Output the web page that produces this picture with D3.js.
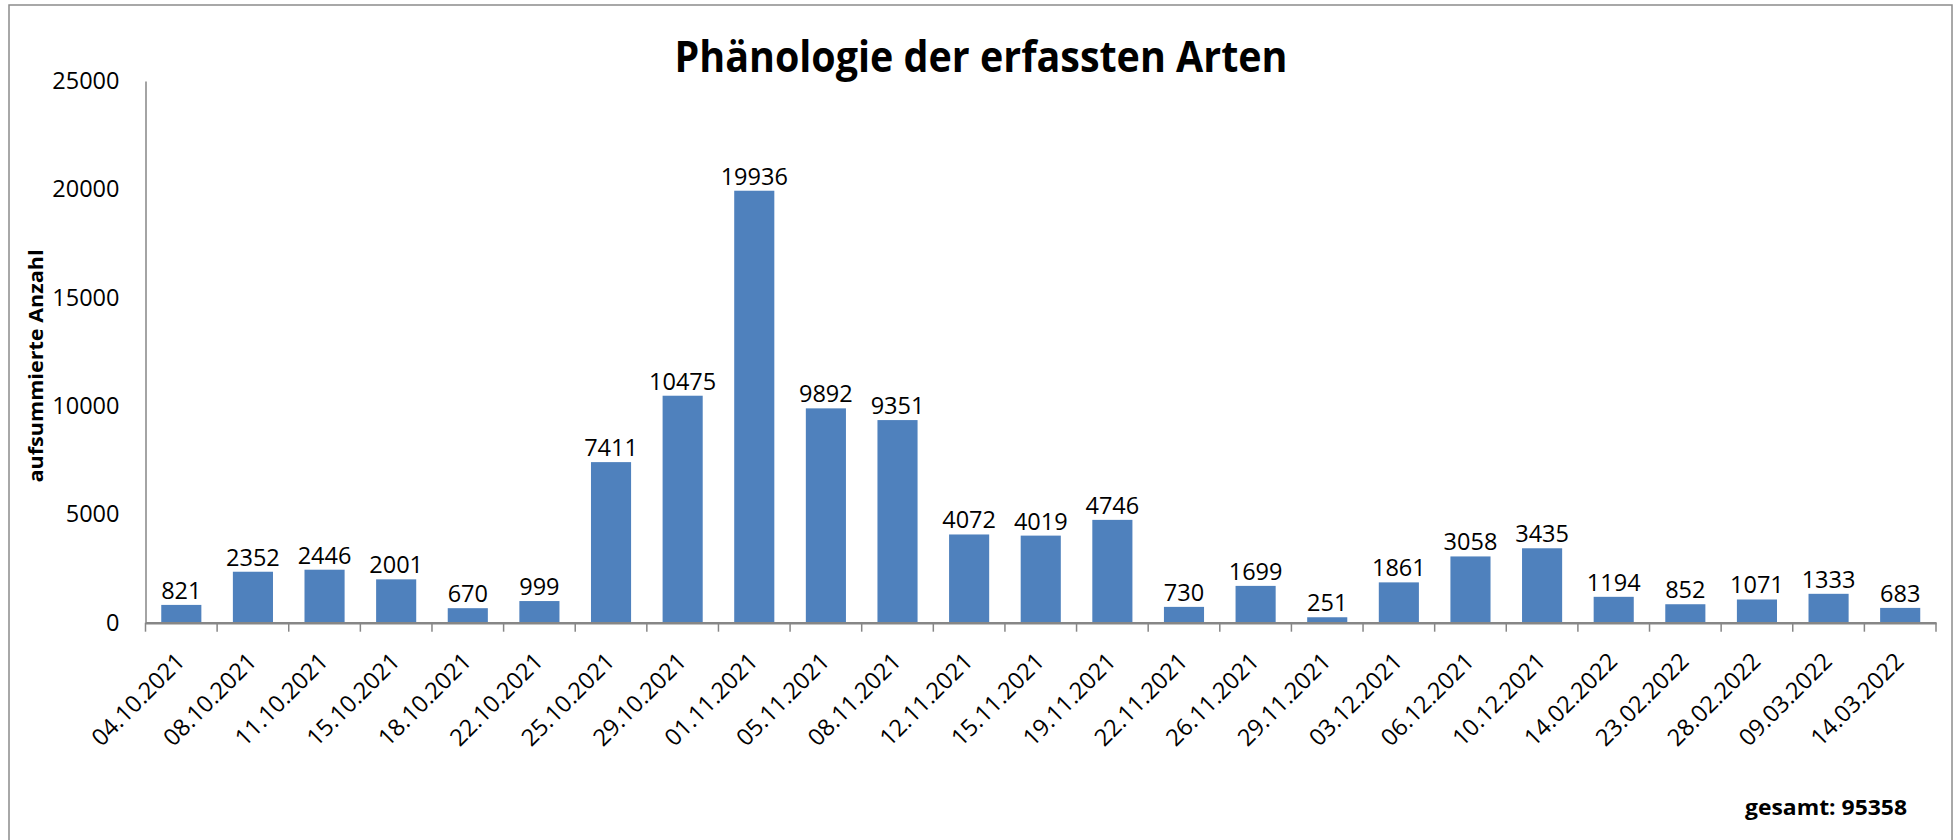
<!DOCTYPE html>
<html>
<head>
<meta charset="utf-8">
<script src="https://cdn.jsdelivr.net/npm/d3@7"></script>
<style>
  html, body { margin: 0; padding: 0; background: #fff; }
  svg { display: block; }
</style>
</head>
<body>
<svg id="chart" width="1954" height="840"></svg>
<script>
const dates = ["04.10.2021","08.10.2021","11.10.2021","15.10.2021","18.10.2021","22.10.2021","25.10.2021","29.10.2021","01.11.2021","05.11.2021","08.11.2021","12.11.2021","15.11.2021","19.11.2021","22.11.2021","26.11.2021","29.11.2021","03.12.2021","06.12.2021","10.12.2021","14.02.2022","23.02.2022","28.02.2022","09.03.2022","14.03.2022"];
const counts = [821,2352,2446,2001,670,999,7411,10475,19936,9892,9351,4072,4019,4746,730,1699,251,1861,3058,3435,1194,852,1071,1333,683];
const yTicks = [0,5000,10000,15000,20000,25000];
const titleText = "Phänologie der erfassten Arten";
const yTitle = "aufsummierte Anzahl";
const totalLabel = "gesamt: " + d3.sum(counts);

const svg = d3.select("#chart");
const font = "'Open Sans', 'Liberation Sans', sans-serif";
const plotLeft = 145.5, plotRight = 1936, plotTop = 81, plotBottom = 622.7;

// outer border
svg.append("rect").attr("x", 9).attr("y", 5).attr("width", 1943).attr("height", 850)
  .attr("fill", "none").attr("stroke", "#8c8c8c").attr("stroke-width", 1.5);

const x = d3.scaleBand().domain(dates).range([plotLeft, plotRight]).paddingInner(0.44).paddingOuter(0.22);
const y = d3.scaleLinear().domain([0, 25000]).range([plotBottom, plotTop]);

// title
svg.append("text").attr("x", 981).attr("y", 72).attr("text-anchor", "middle")
  .attr("font-family", font).attr("font-weight", "bold").attr("font-size", 43)
  .attr("textLength", 613).attr("lengthAdjust", "spacingAndGlyphs")
  .attr("fill", "#000").text(titleText);

// bars
svg.append("g").selectAll("rect").data(counts).join("rect")
  .attr("x", (d, i) => x(dates[i]))
  .attr("y", d => y(d))
  .attr("width", x.bandwidth())
  .attr("height", d => y(0) - y(d))
  .attr("fill", "#4F81BD");

// data labels
svg.append("g").selectAll("text").data(counts).join("text")
  .attr("x", (d, i) => x(dates[i]) + x.bandwidth() / 2)
  .attr("y", d => y(d) - 6)
  .attr("text-anchor", "middle")
  .attr("font-family", font).attr("font-size", 23.5).attr("fill", "#000")
  .text(d => d);

// y axis
const yAxis = svg.append("g").attr("transform", `translate(${plotLeft},0)`)
  .call(d3.axisLeft(y).tickValues(yTicks).tickSize(0).tickPadding(26).tickFormat(d3.format("d")));
yAxis.select(".domain").attr("stroke", "#868686").attr("stroke-width", 1.5);
yAxis.selectAll("text").attr("font-family", font).attr("font-size", 23.5).attr("fill", "#000");

// x axis
const xAxis = svg.append("g").attr("transform", `translate(0,${plotBottom})`)
  .call(d3.axisBottom(x).tickSize(0).tickFormat(d => d));
xAxis.select(".domain").attr("stroke", "#868686").attr("stroke-width", 2.5);
xAxis.selectAll(".tick text")
  .attr("font-family", font).attr("font-size", 23.5).attr("fill", "#000")
  .attr("text-anchor", "end")
  .attr("y", 0).attr("dy", 0)
  .attr("transform", "translate(5,40) rotate(-45)");

// boundary tick marks
const half = (x.step() - x.bandwidth()) / 2;
const bounds = dates.map(d => x(d) - half).concat([x(dates[dates.length - 1]) + x.bandwidth() + half]);
svg.append("g").selectAll("line").data(bounds).join("line")
  .attr("x1", d => d).attr("x2", d => d)
  .attr("y1", plotBottom).attr("y2", plotBottom + 9)
  .attr("stroke", "#868686").attr("stroke-width", 1.5);

// y axis title
svg.append("text").attr("transform", "translate(43,366) rotate(-90)")
  .attr("text-anchor", "middle")
  .attr("font-family", font).attr("font-weight", "bold").attr("font-size", 20)
  .attr("textLength", 233).attr("lengthAdjust", "spacingAndGlyphs")
  .attr("fill", "#000").text(yTitle);

// total
svg.append("text").attr("x", 1907).attr("y", 815).attr("text-anchor", "end")
  .attr("font-family", font).attr("font-weight", "bold").attr("font-size", 21)
  .attr("textLength", 162).attr("lengthAdjust", "spacingAndGlyphs")
  .attr("fill", "#000").text(totalLabel);
</script>
</body>
</html>
